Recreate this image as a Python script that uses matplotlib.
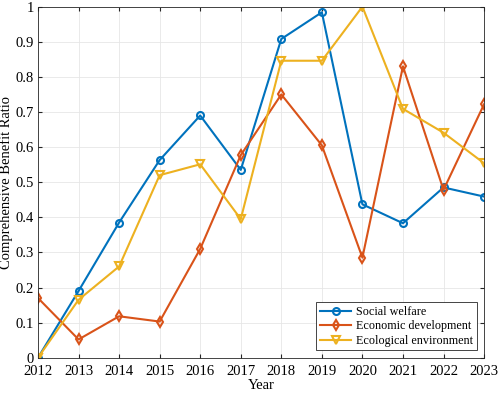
import numpy as np
import matplotlib as mpl
mpl.use('Agg')
import matplotlib.pyplot as plt

plt.rc('font', family=['Liberation Serif', 'DejaVu Serif'])

years = [2012, 2013, 2014, 2015, 2016, 2017, 2018, 2019, 2020, 2021, 2022, 2023]
social = [0.0, 0.19, 0.385, 0.563, 0.69, 0.535, 0.908, 0.984, 0.437, 0.383, 0.485, 0.459]
economic = [0.17, 0.052, 0.118, 0.103, 0.31, 0.577, 0.75, 0.605, 0.285, 0.83, 0.478, 0.722]
ecological = [0.0, 0.165, 0.26, 0.52, 0.551, 0.395, 0.846, 0.846, 1.0, 0.709, 0.641, 0.554]

fig = plt.figure(figsize=(4.98, 3.93), dpi=100)
ax = fig.add_axes([0.0763, 0.0898, 0.8957, 0.8932])

ax.plot(years, social, '-o', color='#0072BD', lw=1.5, ms=5, mfc='none', mew=1.5, label='Social welfare')
ax.plot(years, economic, '-d', color='#D95319', lw=1.5, ms=5, mfc='none', mew=1.5, label='Economic development')
ax.plot(years, ecological, '-v', color='#EDB120', lw=1.5, ms=5.5, mfc='none', mew=1.5, label='Ecological environment')

ax.set_xlim(2012, 2023)
ax.set_ylim(0, 1)
ax.set_xticks(years)
ax.set_yticks(np.arange(0, 1.01, 0.1))
ax.set_yticklabels(['0', '0.1', '0.2', '0.3', '0.4', '0.5', '0.6', '0.7', '0.8', '0.9', '1'])
ax.grid(True, color='#e6e6e6', lw=0.6)
ax.set_axisbelow(True)
ax.tick_params(direction='in', labelsize=10.5, color='#262626', length=3, top=True, right=True)
ax.tick_params(axis='x', pad=5)
ax.tick_params(axis='y', pad=3)
for s in ax.spines.values():
    s.set_color('#262626')
    s.set_linewidth(0.6)

ax.set_xlabel('Year', fontsize=10.5, labelpad=1)
ax.set_ylabel('Comprehensive Benefit Ratio', fontsize=10.5, labelpad=2)

leg = ax.legend(loc='lower right', fontsize=8.7, fancybox=False, framealpha=1,
                edgecolor='#262626', borderaxespad=0.6, handlelength=2.6,
                borderpad=0.3, labelspacing=0.2, handletextpad=0.4)
leg.get_frame().set_linewidth(0.6)

fig.savefig('out.png', dpi=100)
